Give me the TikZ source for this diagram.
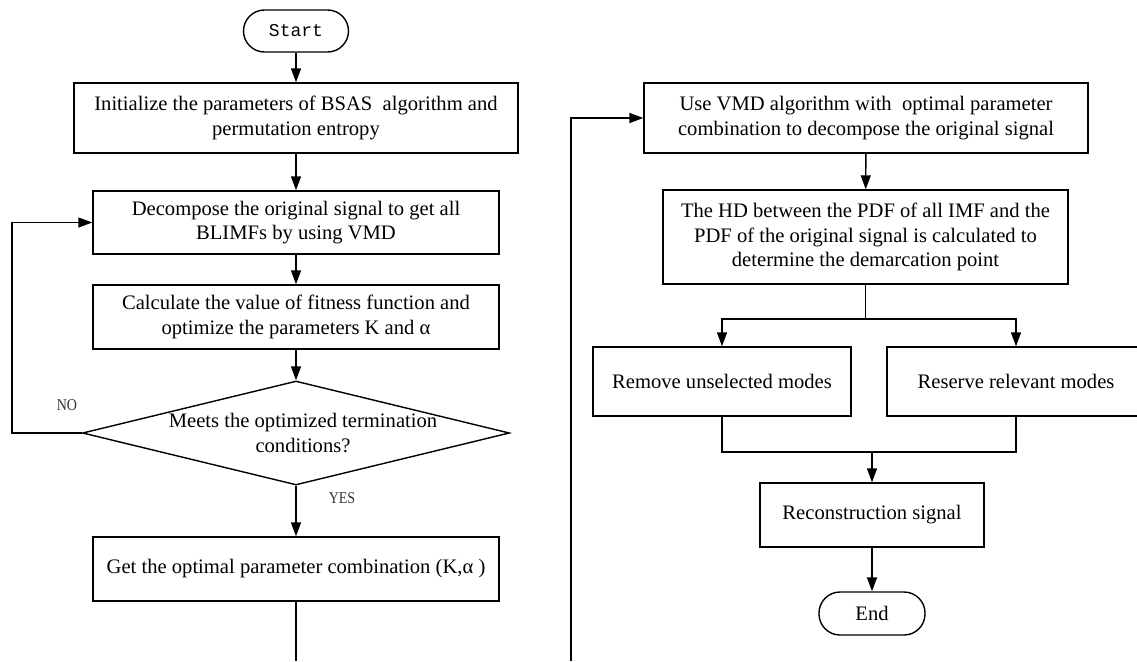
\documentclass[tikz,border=0pt]{standalone}
\usepackage{fontspec}
\setmainfont{Liberation Serif}
\newfontfamily\startfont{Liberation Mono}
\newfontfamily\narrowfont[FakeStretch=0.85]{Liberation Serif}
\usetikzlibrary{shapes.geometric, arrows.meta}

\begin{document}
\begin{tikzpicture}[x=1pt, y=-1pt,
        txt/.style={align=center, font=\fontsize{20.6}{24.5}\selectfont},
        box/.style={draw, txt, line width=1.4pt, inner sep=0pt},
        term/.style={box, rounded corners=21pt},
        decision/.style={draw, diamond, line width=1.4pt, inner sep=0pt},
        lbl/.style={font=\narrowfont\fontsize{16.5}{18}\selectfont, text=black!80},
        arr/.style={-{Triangle[length=14pt,width=10pt]}, line width=1.4pt},
        ln/.style={line width=1.4pt}
    ]
        \useasboundingbox (0,0) rectangle (1137,661);
        % left column
        \node[term, font=\startfont\fontsize{18}{20}\selectfont, minimum width=105pt, minimum height=42pt] (start) at (296,31) {Start};
        \node[box, minimum width=444pt, minimum height=70pt] (init) at (296,118)
            {Initialize the parameters of BSAS\ \ algorithm and\\permutation entropy};
        \node[box, minimum width=406pt, minimum height=63pt] (decomp) at (296,222.5)
            {Decompose the original signal to get all\\BLIMFs by using VMD};
        \node[box, minimum width=406pt, minimum height=64pt] (calc) at (296,317)
            {Calculate the value of fitness function and\\optimize the parameters K and α};
        \node[decision, minimum width=427pt, minimum height=104pt,
              label={[txt, xshift=7pt]center:{Meets the optimized termination\\conditions?}}] (cond) at (296,433) {};
        \node[box, minimum width=406pt, minimum height=64pt] (optcomb) at (296,569)
            {Get the optimal parameter combination (K,α )};
        \node[lbl] (no) at (67,405) {NO};
        \node[lbl] (yes) at (342,498) {YES};
        \coordinate (loop) at (12,433);
        \coordinate (leftend) at (296,661);

        % right column
        \coordinate (rightend) at (571,661);
        \node[box, minimum width=444pt, minimum height=70pt] (usevmd) at (866,118)
            {Use VMD algorithm with\ \ optimal parameter\\combination to decompose the original signal};
        \node[box, minimum width=405pt, minimum height=94pt] (hd) at (865.5,237)
            {The HD between the PDF of all IMF and the\\PDF of the original signal is calculated to\\determine the demarcation point};
        \coordinate (split) at (865.5,319);
        \node[box, minimum width=258pt, minimum height=69pt] (remove) at (722,381.5) {Remove unselected modes};
        \node[box, minimum width=258pt, minimum height=69pt] (reserve) at (1016,381.5) {Reserve relevant modes};
        \coordinate (merge) at (872,452);
        \node[box, minimum width=224pt, minimum height=64pt] (recon) at (872,515) {Reconstruction signal};
        \node[term, minimum width=106pt, minimum height=43pt] (end) at (872,613.5) {End};

        \draw[arr] (start) -- (init); \draw[arr] (init) -- (decomp);
        \draw[arr] (decomp) -- (calc); \draw[arr] (calc) -- (cond);
        \draw[arr] (cond) -- (optcomb); \draw[ln] (optcomb) -- (leftend);
        \draw[arr] (cond.west) -- (loop) |- (decomp);
        \draw[arr] (rightend) |- (usevmd);
        \draw[arr] (usevmd) -- (hd); \draw[ln] (hd) -- (split);
        \draw[arr] (split) -| (remove); \draw[arr] (split) -| (reserve);
        \draw[ln] (remove.south) |- (merge) -| (reserve.south);
        \draw[arr] (merge) -- (recon); \draw[arr] (recon) -- (end);
    \end{tikzpicture}
\end{document}
